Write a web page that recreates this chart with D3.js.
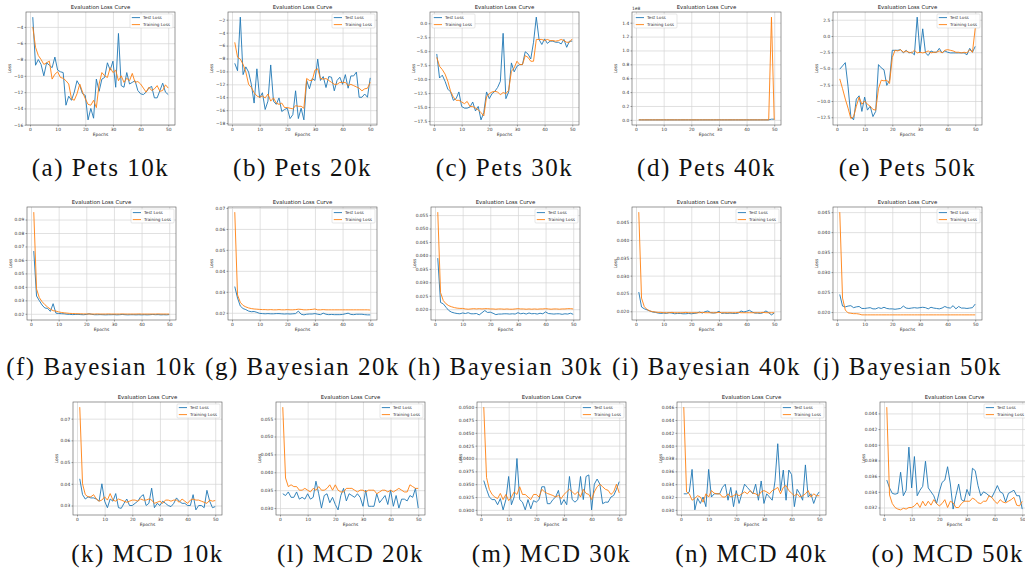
<!DOCTYPE html>
<html><head><meta charset="utf-8">
<script src="https://cdn.jsdelivr.net/npm/d3@7"></script>
<style>body{margin:0;background:#fff;overflow:hidden}</style>
</head><body>
<svg id="fig" width="1025" height="576"></svg>
<script>
// ---------------- DATA ----------------
const epochs = d3.range(1, 51);
const xTicks = [0, 10, 20, 30, 40, 50];
const captions = ["(a) Pets 10k","(b) Pets 20k","(c) Pets 30k","(d) Pets 40k","(e) Pets 50k",
  "(f) Bayesian 10k","(g) Bayesian 20k","(h) Bayesian 30k","(i) Bayesian 40k","(j) Bayesian 50k",
  "(k) MCD 10k","(l) MCD 20k","(m) MCD 30k","(n) MCD 40k","(o) MCD 50k"];

const petsTest10k = [-2.8,-8.7,-8.0,-8.6,-10.0,-8.4,-8.7,-9.0,-7.7,-9.3,
 -9.5,-9.6,-13.6,-12.5,-13.0,-12.0,-10.6,-11.2,-12.2,-12.4,
 -15.4,-14.0,-15.2,-10.4,-11.9,-10.4,-10.2,-8.4,-9.3,-8.2,
 -11.4,-4.8,-11.2,-11.4,-9.6,-11.0,-10.8,-10.6,-11.8,-12.2,
 -12.3,-12.0,-11.5,-11.3,-12.7,-12.7,-11.8,-10.9,-12.0,-12.3];
const petsTrain10k = [-4.0,-6.5,-7.5,-8.0,-8.6,-8.4,-8.2,-10.4,-9.8,-9.5,
 -10.2,-10.3,-10.6,-11.0,-12.8,-13.0,-12.2,-11.0,-12.0,-12.8,
 -13.5,-13.6,-13.0,-13.9,-11.0,-9.6,-10.0,-10.2,-9.0,-9.6,
 -9.3,-10.6,-10.0,-10.8,-10.3,-10.6,-9.7,-10.8,-10.7,-11.0,
 -11.5,-12.0,-11.4,-11.8,-11.6,-11.2,-11.9,-11.8,-11.1,-11.5];
const petsTest20k = [-8.75,-9.9,-1.6,-10.5,-9.3,-10.1,-12.0,-14.9,-9.6,-14.1,
 -13.3,-15.9,-14.6,-9.0,-14.6,-15.1,-14.1,-16.2,-15.9,-15.7,
 -17.3,-16.7,-13.0,-17.3,-15.7,-17.5,-11.4,-12.7,-11.1,-11.4,
 -8.1,-11.4,-10.8,-12.5,-10.8,-10.9,-13.0,-11.4,-10.9,-12.0,
 -10.5,-12.6,-10.7,-10.7,-10.1,-14.0,-14.0,-13.5,-14.0,-11.0];
const petsTrain20k = [-5.5,-7.8,-8.1,-8.9,-10.1,-12.0,-12.5,-13.3,-13.8,-14.0,
 -13.8,-14.1,-13.5,-14.6,-14.1,-14.9,-15.1,-14.9,-15.6,-15.6,
 -15.7,-15.8,-15.3,-15.4,-15.4,-15.7,-11.1,-11.4,-11.4,-9.8,
 -9.6,-11.1,-11.2,-11.1,-11.4,-11.7,-12.0,-12.0,-11.7,-11.7,
 -11.7,-12.2,-12.0,-12.2,-12.4,-12.6,-13.0,-12.7,-12.6,-11.7];
const petsTest30k = [-5.5,-9.8,-9.3,-10.4,-11.8,-12.3,-13.8,-13.5,-12.3,-14.9,
 -15.2,-15.2,-15.0,-14.1,-15.7,-14.9,-17.3,-16.0,-12.3,-13.5,
 -12.6,-12.2,-11.5,-10.4,-1.8,-13.5,-12.3,-7.1,-8.7,-7.7,
 -7.4,-7.4,-5.1,-5.5,-6.4,-3.4,1.1,-2.9,-3.8,-2.8,
 -3.6,-3.2,-3.2,-3.4,-3.4,-3.7,-2.9,-4.3,-3.2,-3.2];
const petsTrain30k = [-6.1,-7.7,-8.3,-9.1,-10.4,-12.2,-13.2,-13.8,-13.8,-14.1,
 -14.4,-14.0,-14.9,-14.9,-15.2,-15.5,-16.0,-16.6,-13.2,-12.6,
 -12.3,-12.2,-12.3,-12.8,-12.4,-12.6,-12.0,-8.6,-8.0,-6.8,
 -7.4,-7.4,-5.8,-6.1,-6.8,-6.8,-2.9,-2.9,-2.9,-3.1,
 -2.9,-3.1,-3.1,-3.2,-3.1,-2.9,-3.1,-3.4,-3.4,-2.8];
// Pets 40k values are in units of 1e8
const petsTest40k = [0,0,0,0,0,0,0,0,0,0, 0,0,0,0,0,0,0,0,0,0,
 0,0,0,0,0,0,0,0,0,0, 0,0,0,0,0,0,0,0,0,0, 0,0,0,0,0,0,0,0,0.01,0.01];
const petsTrain40k = [0,0,0,0,0,0,0,0,0,0, 0,0,0,0,0,0,0,0,0,0,
 0,0,0,0,0,0,0,0,0,0, 0,0,0,0,0,0,0,0,0,0, 0,0,0,0,0,0,0,0,1.48,0];
const petsTest50k = [-5.1,-4.6,-4.1,-7.8,-12.4,-12.9,-9.7,-9.2,-11.6,-9.4,
 -11.4,-10.8,-12.4,-11.6,-4.4,-4.9,-5.2,-7.6,-6.8,-2.2,
 -2.2,-2.2,-2.1,-2.6,-2.2,-2.6,-2.5,-2.9,2.9,-2.6,
 1.1,-2.6,-3.0,-2.3,-2.5,-2.5,-1.9,-2.6,-2.3,-2.5,
 -2.6,-2.6,-2.6,-2.6,-2.6,-2.6,-2.9,-1.9,-2.5,-1.6];
const petsTrain50k = [-6.6,-8.1,-9.7,-11.1,-12.7,-12.4,-10.8,-9.4,-10.5,-10.0,
 -10.5,-10.8,-11.3,-11.4,-8.1,-6.8,-6.9,-6.8,-7.3,-3.3,
 -2.2,-2.3,-2.1,-2.5,-2.3,-2.5,-2.6,-2.2,-2.6,-2.5,
 -2.6,-2.5,-2.3,-2.6,-2.5,-2.5,-2.3,-2.6,-2.2,-2.1,
 -2.2,-2.3,-2.5,-2.5,-2.6,-2.5,-2.6,-2.1,-2.5,1.2];

const bayesTest10k = [0.0666,0.0332,0.0298,0.0265,0.0243,0.0240,0.0218,0.0275,0.0205,0.0202,
 0.0201,0.0200,0.0197,0.0196,0.0194,0.0195,0.0196,0.0194,0.0193,0.0195,
 0.0200,0.0196,0.0193,0.0193,0.0194,0.0193,0.0192,0.0193,0.0193,0.0194,
 0.0192,0.0193,0.0195,0.0193,0.0192,0.0193,0.0193,0.0192,0.0193,0.0192,
 0.0193,0.0192,0.0193,0.0195,0.0193,0.0194,0.0192,0.0193,0.0192,0.0194];
const bayesTrain10k = [0.0955,0.0385,0.0320,0.0290,0.0268,0.0250,0.0235,0.0223,0.0220,0.0214,
 0.0210,0.0207,0.0205,0.0203,0.0202,0.0201,0.0200,0.0200,0.0199,0.0199,
 0.0199,0.0198,0.0198,0.0199,0.0198,0.0198,0.0198,0.0199,0.0198,0.0198,
 0.0198,0.0198,0.0199,0.0198,0.0198,0.0198,0.0198,0.0198,0.0199,0.0198,
 0.0198,0.0198,0.0198,0.0198,0.0198,0.0199,0.0198,0.0198,0.0198,0.0198];
const bayesTest20k = [0.0325,0.0270,0.0232,0.0220,0.0215,0.0208,0.0205,0.0206,0.0202,0.0197,
 0.0196,0.0195,0.0196,0.0195,0.0195,0.0196,0.0196,0.0195,0.0194,0.0195,
 0.0194,0.0195,0.0196,0.0208,0.0193,0.0190,0.0193,0.0194,0.0194,0.0196,
 0.0193,0.0191,0.0198,0.0193,0.0191,0.0192,0.0191,0.0191,0.0191,0.0192,
 0.0195,0.0198,0.0192,0.0191,0.0193,0.0193,0.0193,0.0191,0.0190,0.0190];
const bayesTrain20k = [0.0680,0.0285,0.0250,0.0235,0.0228,0.0223,0.0220,0.0218,0.0217,0.0216,
 0.0215,0.0215,0.0214,0.0215,0.0214,0.0214,0.0215,0.0214,0.0214,0.0215,
 0.0214,0.0214,0.0215,0.0217,0.0216,0.0214,0.0214,0.0215,0.0216,0.0218,
 0.0214,0.0214,0.0215,0.0214,0.0214,0.0214,0.0214,0.0214,0.0214,0.0214,
 0.0214,0.0214,0.0214,0.0214,0.0214,0.0214,0.0214,0.0214,0.0214,0.0213];
const bayesTest30k = [0.0390,0.0225,0.0220,0.0207,0.0195,0.0189,0.0186,0.0184,0.0183,0.0186,
 0.0184,0.0187,0.0183,0.0183,0.0184,0.0179,0.0187,0.0195,0.0188,0.0189,
 0.0185,0.0180,0.0182,0.0182,0.0183,0.0183,0.0182,0.0183,0.0182,0.0187,
 0.0183,0.0185,0.0182,0.0186,0.0183,0.0184,0.0182,0.0185,0.0183,0.0190,
 0.0184,0.0183,0.0182,0.0183,0.0183,0.0181,0.0183,0.0182,0.0185,0.0181];
const bayesTrain30k = [0.0561,0.0262,0.0232,0.0220,0.0213,0.0209,0.0206,0.0204,0.0203,0.0203,
 0.0201,0.0200,0.0201,0.0202,0.0201,0.0202,0.0201,0.0202,0.0202,0.0201,
 0.0201,0.0200,0.0201,0.0201,0.0200,0.0201,0.0200,0.0200,0.0201,0.0202,
 0.0201,0.0201,0.0200,0.0201,0.0200,0.0201,0.0200,0.0201,0.0201,0.0202,
 0.0201,0.0200,0.0201,0.0201,0.0200,0.0201,0.0201,0.0202,0.0202,0.0201];
const bayesTest40k = [0.0254,0.0212,0.0207,0.0204,0.0201,0.0198,0.0197,0.0195,0.0194,0.0195,
 0.0194,0.0196,0.0195,0.0193,0.0194,0.0194,0.0193,0.0193,0.0194,0.0193,
 0.0194,0.0195,0.0198,0.0195,0.0199,0.0201,0.0196,0.0195,0.0196,0.0200,
 0.0194,0.0195,0.0194,0.0195,0.0194,0.0194,0.0195,0.0201,0.0198,0.0200,
 0.0203,0.0198,0.0195,0.0195,0.0194,0.0196,0.0201,0.0196,0.0190,0.0195];
const bayesTrain40k = [0.0478,0.0237,0.0213,0.0205,0.0201,0.0199,0.0198,0.0197,0.0197,0.0196,
 0.0196,0.0196,0.0197,0.0196,0.0196,0.0196,0.0196,0.0197,0.0196,0.0196,
 0.0196,0.0196,0.0196,0.0197,0.0196,0.0196,0.0196,0.0196,0.0196,0.0197,
 0.0196,0.0196,0.0196,0.0196,0.0196,0.0196,0.0197,0.0196,0.0196,0.0196,
 0.0196,0.0196,0.0196,0.0196,0.0196,0.0197,0.0196,0.0196,0.0196,0.0196];
const bayesTest50k = [0.0244,0.0215,0.0213,0.0215,0.0216,0.0211,0.0213,0.0214,0.0209,0.0209,
 0.0210,0.0211,0.0208,0.0208,0.0211,0.0209,0.0212,0.0209,0.0208,0.0208,
 0.0207,0.0208,0.0209,0.0215,0.0210,0.0209,0.0210,0.0211,0.0210,0.0211,
 0.0212,0.0211,0.0208,0.0212,0.0210,0.0209,0.0208,0.0210,0.0214,0.0211,
 0.0210,0.0216,0.0208,0.0214,0.0210,0.0210,0.0209,0.0210,0.0211,0.0220];
const bayesTrain50k = [0.0450,0.0235,0.0205,0.0198,0.0197,0.0196,0.0196,0.0195,0.0193,0.0193,
 0.0193,0.0193,0.0193,0.0193,0.0193,0.0193,0.0193,0.0193,0.0193,0.0193,
 0.0193,0.0193,0.0193,0.0193,0.0193,0.0193,0.0193,0.0193,0.0193,0.0193,
 0.0193,0.0193,0.0193,0.0193,0.0193,0.0193,0.0193,0.0193,0.0193,0.0193,
 0.0193,0.0193,0.0193,0.0193,0.0193,0.0193,0.0193,0.0193,0.0193,0.0193];

const mcdTest10k = [0.0423,0.0350,0.0330,0.0340,0.0335,0.0335,0.0330,0.0320,0.0400,0.0320,
 0.0290,0.0330,0.0320,0.0355,0.0290,0.0287,0.0310,0.0330,0.0300,0.0300,
 0.0310,0.0320,0.0340,0.0350,0.0300,0.0310,0.0380,0.0290,0.0310,0.0300,
 0.0320,0.0310,0.0300,0.0295,0.0310,0.0335,0.0320,0.0310,0.0310,0.0300,
 0.0300,0.0350,0.0280,0.0300,0.0300,0.0290,0.0370,0.0320,0.0290,0.0295];
const mcdTrain10k = [0.0753,0.0400,0.0350,0.0340,0.0340,0.0350,0.0330,0.0320,0.0325,0.0340,
 0.0325,0.0355,0.0325,0.0320,0.0330,0.0325,0.0320,0.0315,0.0320,0.0325,
 0.0325,0.0320,0.0330,0.0325,0.0325,0.0330,0.0325,0.0310,0.0315,0.0320,
 0.0310,0.0325,0.0325,0.0320,0.0325,0.0325,0.0315,0.0330,0.0320,0.0310,
 0.0325,0.0330,0.0325,0.0325,0.0320,0.0315,0.0310,0.0325,0.0320,0.0323];
const mcdTest20k = [0.0340,0.0335,0.0345,0.0330,0.0330,0.0345,0.0325,0.0330,0.0325,0.0340,
 0.0325,0.0330,0.0375,0.0340,0.0300,0.0335,0.0340,0.0315,0.0330,0.0310,
 0.0295,0.0335,0.0355,0.0320,0.0340,0.0335,0.0330,0.0340,0.0330,0.0305,
 0.0350,0.0305,0.0305,0.0305,0.0340,0.0315,0.0325,0.0335,0.0310,0.0350,
 0.0305,0.0335,0.0300,0.0325,0.0325,0.0320,0.0335,0.0330,0.0355,0.0300];
const mcdTrain20k = [0.0582,0.0384,0.0360,0.0365,0.0360,0.0360,0.0350,0.0350,0.0355,0.0350,
 0.0345,0.0355,0.0350,0.0360,0.0350,0.0350,0.0355,0.0365,0.0350,0.0365,
 0.0350,0.0345,0.0345,0.0355,0.0355,0.0355,0.0350,0.0345,0.0350,0.0350,
 0.0345,0.0350,0.0350,0.0350,0.0340,0.0345,0.0350,0.0350,0.0345,0.0350,
 0.0345,0.0350,0.0355,0.0350,0.0345,0.0345,0.0365,0.0360,0.0355,0.0355];
const mcdTest30k = [0.0357,0.0340,0.0325,0.0320,0.0320,0.0310,0.0322,0.0300,0.0320,0.0365,
 0.0310,0.0325,0.0400,0.0320,0.0315,0.0300,0.0320,0.0302,0.0318,0.0315,
 0.0320,0.0345,0.0345,0.0312,0.0312,0.0320,0.0325,0.0338,0.0310,0.0320,
 0.0310,0.0365,0.0320,0.0315,0.0320,0.0365,0.0320,0.0365,0.0368,0.0300,
 0.0350,0.0360,0.0350,0.0312,0.0315,0.0315,0.0325,0.0328,0.0340,0.0355];
const mcdTrain30k = [0.0500,0.0363,0.0340,0.0330,0.0325,0.0322,0.0332,0.0320,0.0330,0.0318,
 0.0325,0.0335,0.0330,0.0345,0.0330,0.0330,0.0325,0.0320,0.0330,0.0330,
 0.0325,0.0340,0.0335,0.0332,0.0330,0.0328,0.0325,0.0328,0.0322,0.0330,
 0.0335,0.0340,0.0335,0.0330,0.0335,0.0325,0.0340,0.0332,0.0330,0.0320,
 0.0335,0.0345,0.0350,0.0345,0.0340,0.0338,0.0330,0.0335,0.0350,0.0333];
const mcdTest40k = [0.0325,0.0325,0.0328,0.0363,0.0300,0.0318,0.0310,0.0320,0.0305,0.0363,
 0.0320,0.0325,0.0325,0.0325,0.0335,0.0340,0.0315,0.0335,0.0305,0.0330,
 0.0310,0.0325,0.0340,0.0335,0.0330,0.0325,0.0340,0.0315,0.0345,0.0310,
 0.0325,0.0320,0.0315,0.0345,0.0403,0.0330,0.0362,0.0315,0.0362,0.0355,
 0.0305,0.0332,0.0325,0.0315,0.0370,0.0320,0.0325,0.0310,0.0322,0.0328];
const mcdTrain40k = [0.0460,0.0328,0.0325,0.0315,0.0318,0.0322,0.0320,0.0312,0.0325,0.0320,
 0.0330,0.0326,0.0325,0.0325,0.0320,0.0320,0.0325,0.0320,0.0322,0.0325,
 0.0322,0.0325,0.0328,0.0325,0.0330,0.0326,0.0325,0.0322,0.0328,0.0330,
 0.0328,0.0325,0.0330,0.0332,0.0335,0.0325,0.0335,0.0338,0.0330,0.0326,
 0.0322,0.0325,0.0320,0.0322,0.0325,0.0330,0.0320,0.0325,0.0322,0.0322];
const mcdTest50k = [0.0355,0.0345,0.0338,0.0337,0.0338,0.0365,0.0335,0.0342,0.0397,0.0345,
 0.0385,0.0335,0.0342,0.0347,0.0379,0.0345,0.0340,0.0335,0.0325,0.0340,
 0.0352,0.0355,0.0372,0.0350,0.0318,0.0335,0.0350,0.0330,0.0328,0.0343,
 0.0335,0.0370,0.0367,0.0348,0.0335,0.0340,0.0338,0.0335,0.0333,0.0340,
 0.0348,0.0340,0.0338,0.0327,0.0338,0.0340,0.0342,0.0335,0.0335,0.0318];
const mcdTrain50k = [0.0448,0.0336,0.0325,0.0320,0.0318,0.0317,0.0319,0.0318,0.0320,0.0320,
 0.0322,0.0326,0.0320,0.0328,0.0322,0.0328,0.0323,0.0330,0.0325,0.0322,
 0.0325,0.0330,0.0320,0.0328,0.0326,0.0320,0.0320,0.0325,0.0328,0.0328,
 0.0328,0.0332,0.0330,0.0326,0.0325,0.0328,0.0328,0.0335,0.0333,0.0328,
 0.0325,0.0330,0.0327,0.0326,0.0328,0.0330,0.0333,0.0323,0.0322,0.0328];

// y tick labels per panel
const ticksA = [-16,-14,-12,-10,-8,-6,-4];
const ticksB = [-18,-16,-14,-12,-10,-8,-6,-4,-2];
const ticksC = [-17.5,-15,-12.5,-10,-7.5,-5,-2.5,0];
const ticksD = [0,0.2,0.4,0.6,0.8,1.0,1.2,1.4];
const ticksE = [-12.5,-10,-7.5,-5,-2.5,0,2.5];
const ticksF = [0.02,0.03,0.04,0.05,0.06,0.07,0.08,0.09];
const ticksG = [0.02,0.03,0.04,0.05,0.06,0.07];
const ticksH = [0.020,0.025,0.030,0.035,0.040,0.045,0.050,0.055];
const ticksI = [0.020,0.025,0.030,0.035,0.040,0.045];
const ticksJ = [0.020,0.025,0.030,0.035,0.040,0.045];
const ticksK = [0.03,0.04,0.05,0.06,0.07];
const ticksL = [0.030,0.035,0.040,0.045,0.050,0.055];
const ticksM = [0.0300,0.0325,0.0350,0.0375,0.0400,0.0425,0.0450,0.0475,0.0500];
const ticksN = [0.030,0.032,0.034,0.036,0.038,0.040,0.042,0.044,0.046];
const ticksO = [0.032,0.034,0.036,0.038,0.040,0.042,0.044];

// ---------------- PANEL TABLE ----------------
const panels = [
  {test: petsTest10k, train: petsTrain10k, ticks: ticksA, fmt: "d", leg: "r"},
  {test: petsTest20k, train: petsTrain20k, ticks: ticksB, fmt: "d", leg: "r"},
  {test: petsTest30k, train: petsTrain30k, ticks: ticksC, fmt: ".1f", leg: "l"},
  {test: petsTest40k, train: petsTrain40k, ticks: ticksD, fmt: ".1f", leg: "l", offset: "1e8"},
  {test: petsTest50k, train: petsTrain50k, ticks: ticksE, fmt: ".1f", leg: "r"},
  {test: bayesTest10k, train: bayesTrain10k, ticks: ticksF, fmt: ".2f", leg: "r"},
  {test: bayesTest20k, train: bayesTrain20k, ticks: ticksG, fmt: ".2f", leg: "r"},
  {test: bayesTest30k, train: bayesTrain30k, ticks: ticksH, fmt: ".3f", leg: "r"},
  {test: bayesTest40k, train: bayesTrain40k, ticks: ticksI, fmt: ".3f", leg: "r"},
  {test: bayesTest50k, train: bayesTrain50k, ticks: ticksJ, fmt: ".3f", leg: "r"},
  {test: mcdTest10k, train: mcdTrain10k, ticks: ticksK, fmt: ".2f", leg: "r"},
  {test: mcdTest20k, train: mcdTrain20k, ticks: ticksL, fmt: ".3f", leg: "r"},
  {test: mcdTest30k, train: mcdTrain30k, ticks: ticksM, fmt: ".4f", leg: "r"},
  {test: mcdTest40k, train: mcdTrain40k, ticks: ticksN, fmt: ".3f", leg: "r"},
  {test: mcdTest50k, train: mcdTrain50k, ticks: ticksO, fmt: ".3f", leg: "r"}
];

// ---------------- LAYOUT ----------------
const W = 149, H = 113;
const colX = [[26,228,430,632,833],[27,228,431,632,833],[73,276,477,677,880]];
const rowY = [12, 207, 402];
const capY = [176, 375, 562];
const BLUE = "#1f77b4", ORANGE = "#ff7f0e";
const SANS = "DejaVu Sans, sans-serif";
const PAGE_W = 1025;

const svg = d3.select("#fig");

panels.forEach((p, k) => {
  const r = Math.floor(k / 5), c = k % 5;
  const x0 = colX[r][c], y0 = rowY[r];
  const g = svg.append("g").attr("transform", `translate(${x0},${y0})`);

  const x = d3.scaleLinear().domain([1 - 0.05 * 49, 50 + 0.05 * 49]).range([0, W]);
  const ext = d3.extent(p.test.concat(p.train));
  const pad = (ext[1] - ext[0]) * 0.05;
  const y = d3.scaleLinear().domain([ext[0] - pad, ext[1] + pad]).range([H, 0]);

  // grid
  const gy = g.append("g").call(d3.axisLeft(y).tickValues(p.ticks).tickSize(-W).tickFormat(""));
  const gx = g.append("g").attr("transform", `translate(0,${H})`)
     .call(d3.axisBottom(x).tickValues(xTicks).tickSize(-H).tickFormat(""));
  [gy, gx].forEach(s => { s.select(".domain").remove();
    s.selectAll("line").attr("stroke", "#d4d4d4").attr("stroke-width", 0.7); });

  // lines
  const line = d3.line().x((d, i) => x(epochs[i])).y(d => y(d));
  g.append("path").datum(p.test).attr("d", line).attr("fill", "none")
    .attr("stroke", BLUE).attr("stroke-width", 0.9).attr("stroke-linejoin", "round");
  g.append("path").datum(p.train).attr("d", line).attr("fill", "none")
    .attr("stroke", ORANGE).attr("stroke-width", 0.9).attr("stroke-linejoin", "round");

  // frame
  g.append("rect").attr("width", W).attr("height", H).attr("fill", "none")
    .attr("stroke", "#555").attr("stroke-width", 0.6);

  // axes
  const ya = g.append("g").call(d3.axisLeft(y).tickValues(p.ticks)
      .tickFormat(d3.format(p.fmt)).tickSize(1.5).tickPadding(1.3));
  const xa = g.append("g").attr("transform", `translate(0,${H})`)
      .call(d3.axisBottom(x).tickValues(xTicks).tickFormat(d3.format("d")).tickSize(1.5).tickPadding(1.3));
  [ya, xa].forEach(s => {
    s.select(".domain").remove();
    s.selectAll("line").attr("stroke", "#444").attr("stroke-width", 0.5);
    s.selectAll("text").attr("font-size", 4.4).attr("font-family", SANS).attr("fill", "#333");
  });

  // title & labels
  g.append("text").attr("x", W / 2).attr("y", -3).attr("text-anchor", "middle")
    .attr("font-size", 5.4).attr("font-family", SANS).attr("fill", "#222").text("Evaluation Loss Curve");
  g.append("text").attr("x", W / 2).attr("y", H + 11).attr("text-anchor", "middle")
    .attr("font-size", 4.4).attr("font-family", SANS).attr("fill", "#333").text("Epochs");
  g.append("text").attr("transform", `translate(-15,${H / 2}) rotate(-90)`).attr("text-anchor", "middle")
    .attr("font-size", 4.4).attr("font-family", SANS).attr("fill", "#333").text("Loss");
  if (p.offset) g.append("text").attr("x", 0).attr("y", -2.5).attr("font-size", 4.4)
    .attr("font-family", SANS).attr("fill", "#333").text(p.offset);

  // legend
  const lw = 43, lh = 14;
  const lx = p.leg === "r" ? W - lw - 2 : 2, ly = 2;
  const lg = g.append("g").attr("transform", `translate(${lx},${ly})`);
  lg.append("rect").attr("width", lw).attr("height", lh).attr("rx", 1).attr("fill", "white")
    .attr("fill-opacity", 0.85).attr("stroke", "#cccccc").attr("stroke-width", 0.5);
  [["Test Loss", BLUE], ["Training Loss", ORANGE]].forEach((e, i) => {
    const yy = 3.6 + i * 7;
    lg.append("line").attr("x1", 1.8).attr("x2", 10).attr("y1", yy).attr("y2", yy)
      .attr("stroke", e[1]).attr("stroke-width", 0.9);
    lg.append("text").attr("x", 13).attr("y", yy + 1.5).attr("font-size", 4.2)
      .attr("font-family", SANS).attr("fill", "#333").text(e[0]);
  });

  // caption (kept inside the page)
  const cap = svg.append("text").attr("x", x0 + W / 2).attr("y", capY[r]).attr("text-anchor", "middle")
    .attr("font-family", "Liberation Serif, serif").attr("font-size", 25)
    .attr("letter-spacing", 1.5).attr("fill", "#111").text(captions[k]);
  const bb = cap.node().getBBox();
  if (bb.x + bb.width > PAGE_W - 1) cap.attr("x", x0 + W / 2 - (bb.x + bb.width - (PAGE_W - 1)));
});
</script>
</body></html>
